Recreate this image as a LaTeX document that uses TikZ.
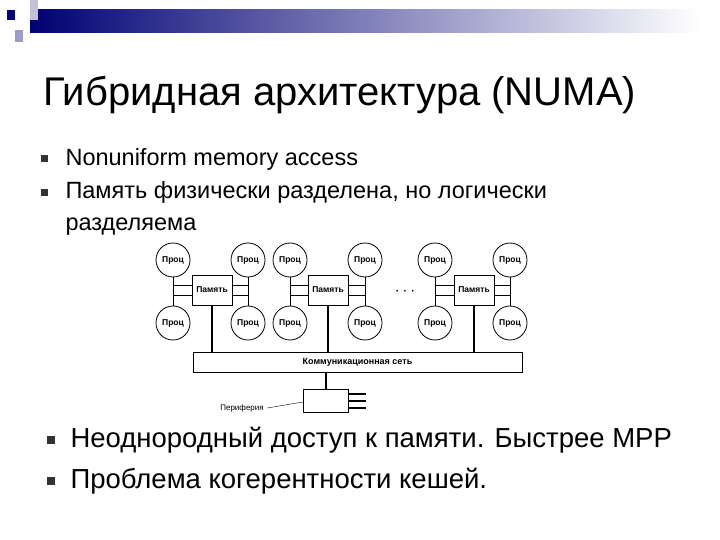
\documentclass[tikz,border=0pt]{standalone}
\usepackage{fontspec}
\setmainfont{Liberation Sans}
\begin{document}
\begin{tikzpicture}[x=1pt,y=-1pt,
 proc/.style={circle,draw,thick,minimum size=34pt,inner sep=0pt,font=\fontsize{8.5}{9}\selectfont\bfseries},
 mem/.style={draw,thick,minimum width=40pt,minimum height=30pt,inner sep=0pt,font=\fontsize{8.5}{9}\selectfont\bfseries},
 wire/.style={thick},
 bus/.style={line width=2pt}]
\useasboundingbox (0,0) rectangle (720,540);
\shade[left color=blue!45!black, right color=white] (30,10) rectangle (700,33);
\fill[blue!50!black] (7,10) rectangle (15,20);
\fill[blue!20!gray!40] (30,0) rectangle (38,20);
\fill[blue!30!gray!60] (15,30) rectangle (23,42);
\node[anchor=west,font=\fontsize{40}{44}\selectfont] (title) at (40,95) {Гибридная архитектура (NUMA)};
\node[anchor=west,font=\fontsize{23.5}{26}\selectfont] (t1) at (62,159) {Nonuniform memory access};
\node[anchor=north west,align=left,font=\fontsize{23.5}{32}\selectfont] (t2) at (62,178) {Память физически разделена, но логически\\разделяема};
\node[anchor=west,font=\fontsize{27.5}{30}\selectfont] (t3) at (67,440) {Неоднородный доступ к памяти. Быстрее MPP};
\node[anchor=west,font=\fontsize{27.5}{30}\selectfont] (t4) at (67,481) {Проблема когерентности кешей.};
\foreach \n/\y in {b1/159,b2/193}{\node[fill=black!80,minimum size=7pt,inner sep=0pt] (\n) at (44,\y) {};}
\foreach \n/\y in {b3/440,b4/481}{\node[fill=black!80,minimum size=8pt,inner sep=0pt] (\n) at (51,\y) {};}
\node[draw,thick,minimum width=329pt,minimum height=20pt,inner sep=0pt,font=\fontsize{9}{10}\selectfont\bfseries] (net) at (357.5,362) {Коммуникационная сеть};
\foreach \c/\mx/\l/\r in {A/212/173/248,B/328/290/365,C/474/435/510}{
 \node[mem] (m\c) at (\mx,290) {Память};
 \node[proc] (tl\c) at (\l,260) {Проц};
 \node[proc] (tr\c) at (\r,260) {Проц};
 \node[proc] (bl\c) at (\l,323) {Проц};
 \node[proc] (br\c) at (\r,323) {Проц};
 \draw[wire] (tl\c.south) |- ([yshift=-5pt]m\c.west);
 \draw[wire] (tr\c.south) |- ([yshift=-5pt]m\c.east);
 \draw[wire] (bl\c.north) |- ([yshift=5pt]m\c.west);
 \draw[wire] (br\c.north) |- ([yshift=5pt]m\c.east);
 \draw[bus] (m\c.south) -- (m\c.south |- net.north);
}
\node[font=\fontsize{16}{16}\selectfont] (dots) at (405,292) {$\cdots$};
\node[draw,thick,minimum width=45pt,minimum height=23pt,inner sep=0pt] (per) at (326,401) {};
\draw[bus] (per.north) -- (per.north |- net.south);
\foreach \dy in {-7,0,7}{\draw[bus] ([yshift=\dy pt]per.east) -- ++(17,0);}
\node[font=\fontsize{8}{9}\selectfont] (pl) at (242,408) {Периферия};
\draw (pl.east) -- ([yshift=-1pt]per.west);
\end{tikzpicture}
\end{document}
